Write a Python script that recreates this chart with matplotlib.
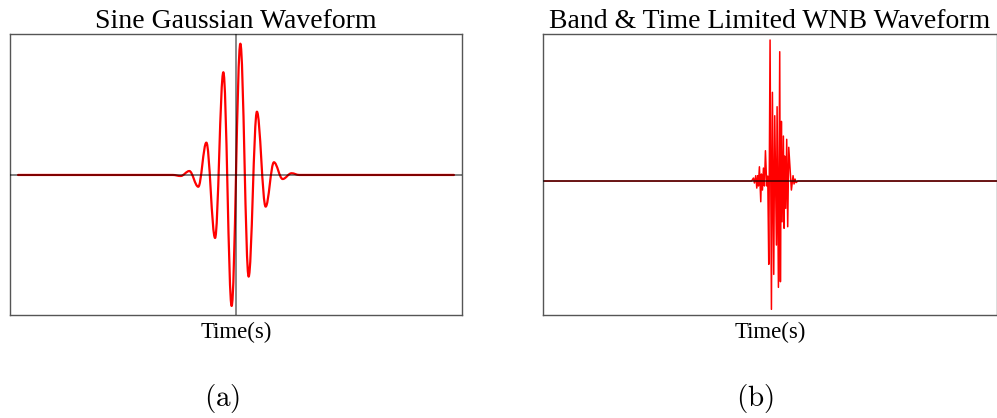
import matplotlib
matplotlib.use("Agg")
import matplotlib.pyplot as plt
from matplotlib.path import Path
from matplotlib.patches import PathPatch

# ---------------- data ----------------
# (a) Sine Gaussian: extrema (time in s, amplitude)
sg_time = [-1.0, -0.29, -0.254, -0.214, -0.173, -0.136, -0.096, -0.058, -0.020,
           0.020, 0.058, 0.096, 0.136, 0.174, 0.214, 0.255, 0.29, 1.0]
sg_amp = [0.0, 0.0, -0.008, 0.030, -0.090, 0.247, -0.481, 0.784, -1.000,
          1.002, -0.776, 0.483, -0.242, 0.097, -0.031, 0.013, 0.0, 0.0]

# (b) Band & time limited WNB: samples
wnb_time = [0.0, 0.460, 0.4640, 0.4662, 0.4692, 0.4714, 0.4736, 0.4750, 0.4772,
            0.4802, 0.4816, 0.4839, 0.4861, 0.4883, 0.4905, 0.4934, 0.4956,
            0.4978, 0.5007, 0.5037, 0.5059, 0.5088, 0.5110, 0.5147, 0.5162,
            0.5191, 0.5220, 0.5235, 0.5257, 0.5272, 0.5301, 0.5316, 0.5330,
            0.5352, 0.5374, 0.5396, 0.5419, 0.5477, 0.5514, 0.5536, 0.5558,
            0.5580, 0.562, 1.0]
wnb_amp = [0.0, 0.0, 0.021, -0.014, 0.038, -0.050, 0.038, -0.035, 0.101,
           -0.147, 0.050, -0.064, 0.092, -0.035, 0.215, -0.035, 0.035,
           -0.591, 1.000, -0.910, 0.629, -0.662, 0.463, -0.454, 0.527,
           -0.754, 0.917, -0.714, 0.423, -0.289, 0.319, -0.335, 0.177,
           -0.194, 0.296, -0.324, 0.239, -0.064, 0.038, -0.021, 0.014,
           -0.011, 0.0, 0.0]

titles = ["Sine Gaussian Waveform", "Band & Time Limited WNB Waveform"]
xlabel = "Time(s)"
panel_labels = ["(a)", "(b)"]

# ---------------- figure ----------------
W, H = 997, 418
fig = plt.figure(figsize=(W / 100, H / 100), dpi=100)
serif = ["Liberation Serif", "DejaVu Serif"]
plt.rcParams["mathtext.fontset"] = "cm"


def fx(px):
    return px / W


def fy(py):
    return 1 - py / H


ax1 = fig.add_axes([fx(10), fy(315), fx(452), (315 - 34) / H])
ax2 = fig.add_axes([fx(543), fy(315), fx(453.5), (315 - 34) / H])

for ax in (ax1, ax2):
    ax.set_xticks([])
    ax.set_yticks([])
    for s in ax.spines.values():
        s.set_color("#555555")
        s.set_linewidth(1.0)

# (a) smooth curve through extrema, horizontal tangents at each extremum
k = 0.3634
verts = [(sg_time[0], sg_amp[0])]
codes = [Path.MOVETO]
for i in range(len(sg_time) - 1):
    t0, y0, t1, y1 = sg_time[i], sg_amp[i], sg_time[i + 1], sg_amp[i + 1]
    dt = t1 - t0
    verts += [(t0 + k * dt, y0), (t1 - k * dt, y1), (t1, y1)]
    codes += [Path.CURVE4] * 3
patch = PathPatch(Path(verts, codes), fill=False, edgecolor="red", lw=1.6,
                  capstyle="round", joinstyle="round", zorder=2)
ax1.add_patch(patch)
ax1.axhline(0, color="black", alpha=0.5, lw=1.4, zorder=3)
ax1.axvline(0, color="black", alpha=0.6, lw=1.1, zorder=3)
ax1.set_xlim(-1.037, 1.037)
ax1.set_ylim(-1.069, 1.076)

# (b)
ax2.plot(wnb_time, wnb_amp, color="red", lw=1.1, zorder=2)
ax2.axhline(0, color="black", alpha=0.75, lw=1.1, zorder=3)
ax2.set_xlim(0, 1)
ax2.set_ylim(-0.950, 1.0426)

for ax, title in zip((ax1, ax2), titles):
    ax.set_title(title, family=serif, fontsize=20, pad=4.3)

fig.text(fx(236), fy(338), xlabel, family=serif, fontsize=16.4,
         ha="center", va="baseline")
fig.text(fx(770.5), fy(338), xlabel, family=serif, fontsize=16.4,
         ha="center", va="baseline")

fig.text(fx(222), fy(406), r"$\mathrm{" + panel_labels[0] + "}$", fontsize=21,
         ha="center", va="baseline")
fig.text(fx(755), fy(406), r"$\mathrm{" + panel_labels[1] + "}$", fontsize=21,
         ha="center", va="baseline")

fig.savefig("out.png", dpi=100)
